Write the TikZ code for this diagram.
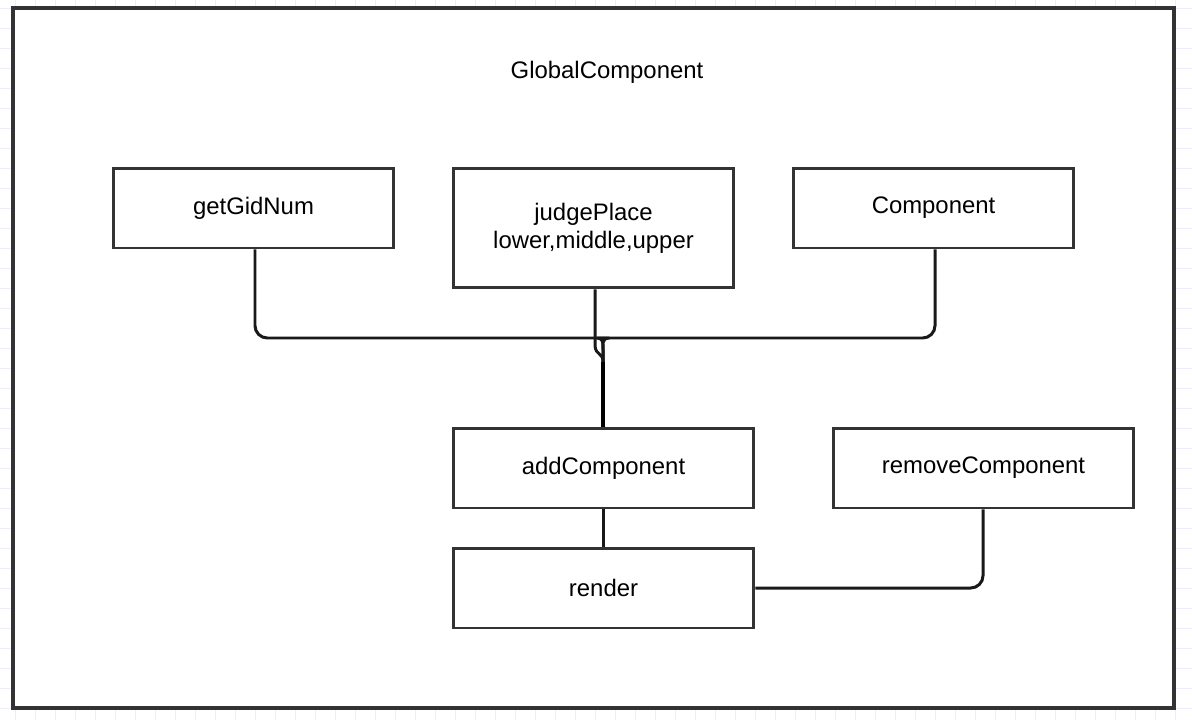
\documentclass[tikz,border=0pt]{standalone}
\usepackage{fontspec}
\setmainfont{Liberation Sans}
\usetikzlibrary{positioning}
\definecolor{gridcol}{HTML}{EDEDFB}
\definecolor{edgecol}{HTML}{333333}
\begin{document}
\begin{tikzpicture}[x=0.02cm,y=-0.02cm,
  box/.style={draw=edgecol,line width=1.7pt,fill=white,minimum height=1.6cm,
    align=center,font=\fontsize{13.6}{16}\selectfont},
  wire/.style={draw=black!90,line width=1.7pt,rounded corners=7pt}]
  \useasboundingbox (0,0) rectangle (1192,720);
  % background grid
  \foreach \gx in {15,35,...,1192}
    \draw[gridcol,line width=0.5pt] (\gx,0) -- (\gx,720);
  \foreach \gy in {8,28,...,720}
    \draw[gridcol,line width=0.5pt] (0,\gy) -- (1192,\gy);
  % outer frame
  \draw[edgecol,line width=1.8pt,fill=white] (13,8) rectangle (1174,708);
  \node[font=\fontsize{13.6}{16}\selectfont] (title) at (607,72) {GlobalComponent};
  % boxes
  \node[box,minimum width=5.62cm] (gid) at (253.5,208) {getGidNum};
  \node[box,minimum width=5.62cm,minimum height=2.4cm] (judge) at (593.5,228)
    {judgePlace\\lower,middle,upper};
  \node[box,minimum width=5.62cm] (comp) at (933.5,208) {Component};
  \node[box,minimum width=6.02cm] (add) at (603.5,468) {addComponent};
  \node[box,minimum width=6.02cm] (remove) at (983.5,468) {removeComponent};
  \node[box,minimum width=6.02cm] (render) at (603.5,588) {render};
  % connectors
  \coordinate (merge) at (603,362);
  \draw[wire] (gid.south -| 255,0) -- (255,338) -- (597,338)
    .. controls (601,338) and (603,346) .. (merge) -- (add.north);
  \draw[wire] (comp.south -| 935,0) -- (935,338) -- (609,338)
    .. controls (605,338) and (603,346) .. (merge);
  \draw[line width=1.7pt,black!90] (judge.south -| 595,0) -- (595,346)
    .. controls (596,356) and (603,352) .. (merge);
  \draw[line width=2.6pt,black] (merge) -- (add.north -| 603,0);
  \draw[wire] (add.south -| 603,0) -- (render.north -| 603,0);
  \draw[wire] (remove.south -| 983,0) -- (983,588) -- (render.east);
\end{tikzpicture}
\end{document}
